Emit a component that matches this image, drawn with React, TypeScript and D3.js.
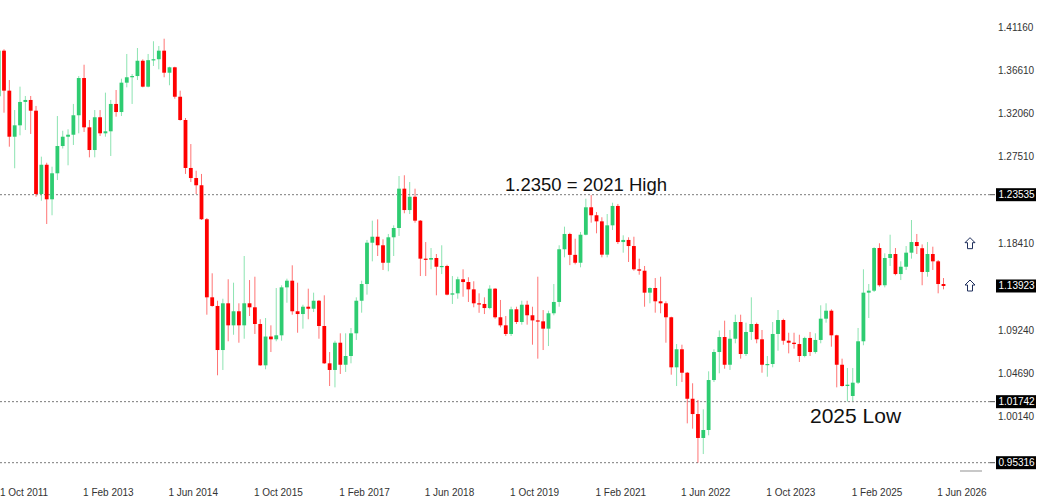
import React from 'react';
import * as d3 from 'd3';

const W = 1038;
const H = 498;

// monthly bars, first one is Oct 2011
const FIRST_MONTH = new Date(2011, 9, 1);

const opens = [
  1.3390, 1.3870, 1.3449, 1.2964, 1.3084, 1.3330, 1.3351, 1.3238, 1.2361, 1.2669,
  1.2305, 1.2579, 1.2866, 1.2964, 1.2985, 1.3190, 1.3582, 1.3063, 1.2824, 1.3169,
  1.3000, 1.3021, 1.3309, 1.3224, 1.3533, 1.3590, 1.3603, 1.3764, 1.3491, 1.3770,
  1.3780, 1.3870, 1.3638, 1.3695, 1.3385, 1.3140, 1.2635, 1.2529, 1.2453, 1.2095,
  1.1273, 1.1182, 1.0718, 1.1210, 1.0978, 1.1126, 1.0978, 1.1210, 1.1168, 1.0992,
  1.0557, 1.0860, 1.0831, 1.0873, 1.1378, 1.1448, 1.1126, 1.1097, 1.1174, 1.1153,
  1.1237, 1.0971, 1.0578, 1.0508, 1.0795, 1.0563, 1.0655, 1.0894, 1.1237, 1.1413,
  1.1848, 1.1911, 1.1821, 1.1637, 1.1905, 1.2003, 1.2417, 1.2192, 1.2332, 1.2080,
  1.1680, 1.1670, 1.1687, 1.1595, 1.1603, 1.1301, 1.1315, 1.1463, 1.1434, 1.1357,
  1.1210, 1.1203, 1.1160, 1.1364, 1.1063, 1.0978, 1.0887, 1.1147, 1.1013, 1.1195,
  1.1084, 1.1030, 1.1020, 1.0943, 1.1105, 1.1224, 1.1779, 1.1940, 1.1720, 1.1637,
  1.1932, 1.2221, 1.2137, 1.2073, 1.1722, 1.2031, 1.2235, 1.1855, 1.1877, 1.1813,
  1.1568, 1.1553, 1.1322, 1.1371, 1.1231, 1.1210, 1.1063, 1.0536, 1.0726, 1.0479,
  1.0205, 1.0044, 0.9792, 0.9876, 1.0402, 1.0697, 1.0855, 1.0563, 1.0837, 1.1013,
  1.0676, 1.0908, 1.0992, 1.0831, 1.0563, 1.0571, 1.0887, 1.1034, 1.0816, 1.0795,
  1.0781, 1.0655, 1.0845, 1.0697, 1.0824, 1.1048, 1.1132, 1.0873, 1.0563, 1.0339,
  1.0234, 1.0374, 1.0810, 1.1322, 1.1343, 1.1792, 1.1400, 1.1687, 1.1729, 1.1518,
  1.1595, 1.1743, 1.1855, 1.1790, 1.1540, 1.1729, 1.1652, 1.1413,
];

const highs = [
  1.4250, 1.3885, 1.3561, 1.3245, 1.3491, 1.3393, 1.3393, 1.3288, 1.2754, 1.2690,
  1.2648, 1.3182, 1.3027, 1.3042, 1.3309, 1.3603, 1.3722, 1.3140, 1.3245, 1.3245,
  1.3428, 1.3351, 1.3456, 1.3575, 1.3835, 1.3624, 1.3898, 1.3779, 1.3835, 1.3969,
  1.3919, 1.3996, 1.3701, 1.3701, 1.3449, 1.3161, 1.2887, 1.2606, 1.2572, 1.2108,
  1.1526, 1.1237, 1.1258, 1.1463, 1.1427, 1.1210, 1.1708, 1.1455, 1.1490, 1.1042,
  1.1055, 1.0978, 1.1371, 1.1399, 1.1469, 1.1610, 1.1427, 1.1195, 1.1364, 1.1322,
  1.1245, 1.1294, 1.0697, 1.0816, 1.0894, 1.0894, 1.0950, 1.1273, 1.1448, 1.1877,
  1.2080, 1.2094, 1.1884, 1.1940, 1.2031, 1.2550, 1.2558, 1.2487, 1.2417, 1.2087,
  1.1855, 1.1792, 1.1729, 1.1821, 1.1616, 1.1497, 1.1490, 1.1568, 1.1484, 1.1442,
  1.1315, 1.1273, 1.1400, 1.1371, 1.1245, 1.1076, 1.1174, 1.1174, 1.1237, 1.1237,
  1.1174, 1.1490, 1.1139, 1.1132, 1.1413, 1.1821, 1.2017, 1.1953, 1.1890, 1.1961,
  1.2311, 1.2350, 1.2171, 1.2116, 1.2150, 1.2269, 1.2256, 1.1926, 1.1905, 1.1911,
  1.1680, 1.1603, 1.1378, 1.1476, 1.1490, 1.1231, 1.1069, 1.0781, 1.0774, 1.0487,
  1.0368, 1.0192, 1.0094, 1.0494, 1.0726, 1.0924, 1.1027, 1.0929, 1.1090, 1.1090,
  1.1006, 1.1273, 1.1006, 1.0929, 1.0655, 1.1013, 1.1139, 1.1048, 1.0900, 1.0900,
  1.0879, 1.0858, 1.0908, 1.0894, 1.1189, 1.1210, 1.1147, 1.0879, 1.0627, 1.0529,
  1.0529, 1.0950, 1.1568, 1.1413, 1.1800, 1.1842, 1.1736, 1.1932, 1.1792, 1.1652,
  1.1813, 1.2087, 1.1940, 1.1830, 1.1855, 1.1806, 1.1666, 1.1476,
];

const lows = [
  1.3150, 1.3217, 1.2859, 1.2632, 1.2979, 1.3035, 1.2993, 1.2332, 1.2290, 1.2045,
  1.2137, 1.2508, 1.2840, 1.2663, 1.2877, 1.3000, 1.3014, 1.2747, 1.2747, 1.2972,
  1.2964, 1.2761, 1.3175, 1.3182, 1.3484, 1.3309, 1.3561, 1.3484, 1.3484, 1.3709,
  1.3674, 1.3590, 1.3506, 1.3364, 1.3133, 1.2572, 1.2487, 1.2361, 1.2087, 1.1090,
  1.1174, 1.0452, 1.0508, 1.0810, 1.0879, 1.0795, 1.0837, 1.1076, 1.0887, 1.0550,
  1.0515, 1.0697, 1.0810, 1.0816, 1.1216, 1.1090, 1.0900, 1.0943, 1.1042, 1.1118,
  1.0837, 1.0571, 1.0339, 1.0325, 1.0466, 1.0487, 1.0578, 1.0824, 1.1111, 1.1301,
  1.1652, 1.1708, 1.1561, 1.1547, 1.1708, 1.1919, 1.2158, 1.2150, 1.2059, 1.1497,
  1.1497, 1.1568, 1.1294, 1.1518, 1.1294, 1.1203, 1.1258, 1.1279, 1.1224, 1.1168,
  1.1110, 1.1097, 1.1147, 1.1048, 1.0957, 1.0866, 1.0866, 1.0992, 1.0985, 1.0985,
  1.0774, 1.0627, 1.0718, 1.0760, 1.1084, 1.1174, 1.1694, 1.1612, 1.1620, 1.1589,
  1.1926, 1.2059, 1.1947, 1.1694, 1.1694, 1.1982, 1.1834, 1.1743, 1.1645, 1.1553,
  1.1511, 1.1174, 1.1210, 1.1111, 1.1105, 1.0795, 1.0458, 1.0339, 1.0381, 0.9946,
  0.9890, 0.9532, 0.9623, 0.9820, 1.0381, 1.0473, 1.0521, 1.0508, 1.0789, 1.0627,
  1.0655, 1.0824, 1.0789, 1.0479, 1.0437, 1.0536, 1.0711, 1.0774, 1.0683, 1.0732,
  1.0592, 1.0641, 1.0655, 1.0680, 1.0789, 1.1006, 1.0753, 1.0325, 1.0332, 1.0177,
  1.0180, 1.0360, 1.0768, 1.1055, 1.1329, 1.1385, 1.1378, 1.1603, 1.1505, 1.1455,
  1.1561, 1.1680, 1.1729, 1.1400, 1.1490, 1.1561, 1.1315, 1.1357,
];

const closes = [
  1.3870, 1.3449, 1.2964, 1.3084, 1.3330, 1.3351, 1.3238, 1.2361, 1.2669, 1.2305,
  1.2579, 1.2866, 1.2964, 1.2985, 1.3190, 1.3582, 1.3063, 1.2824, 1.3169, 1.3000,
  1.3021, 1.3309, 1.3224, 1.3533, 1.3590, 1.3603, 1.3764, 1.3491, 1.3770, 1.3780,
  1.3870, 1.3638, 1.3695, 1.3385, 1.3140, 1.2635, 1.2529, 1.2453, 1.2095, 1.1273,
  1.1182, 1.0718, 1.1210, 1.0978, 1.1126, 1.0978, 1.1210, 1.1168, 1.0992, 1.0557,
  1.0860, 1.0831, 1.0873, 1.1378, 1.1448, 1.1126, 1.1097, 1.1174, 1.1153, 1.1237,
  1.0971, 1.0578, 1.0508, 1.0795, 1.0563, 1.0655, 1.0894, 1.1237, 1.1413, 1.1848,
  1.1911, 1.1821, 1.1637, 1.1905, 1.2003, 1.2417, 1.2192, 1.2332, 1.2080, 1.1680,
  1.1670, 1.1687, 1.1595, 1.1603, 1.1301, 1.1315, 1.1463, 1.1434, 1.1357, 1.1210,
  1.1203, 1.1160, 1.1364, 1.1063, 1.0978, 1.0887, 1.1147, 1.1013, 1.1195, 1.1084,
  1.1030, 1.1020, 1.0943, 1.1105, 1.1224, 1.1779, 1.1940, 1.1720, 1.1637, 1.1932,
  1.2221, 1.2137, 1.2073, 1.1722, 1.2031, 1.2235, 1.1855, 1.1877, 1.1813, 1.1568,
  1.1553, 1.1322, 1.1371, 1.1231, 1.1210, 1.1063, 1.0536, 1.0726, 1.0479, 1.0205,
  1.0044, 0.9792, 0.9876, 1.0402, 1.0697, 1.0855, 1.0563, 1.0837, 1.1013, 1.0676,
  1.0908, 1.0992, 1.0831, 1.0563, 1.0571, 1.0887, 1.1034, 1.0816, 1.0795, 1.0781,
  1.0655, 1.0845, 1.0697, 1.0824, 1.1048, 1.1132, 1.0873, 1.0563, 1.0339, 1.0353,
  1.0374, 1.0810, 1.1322, 1.1343, 1.1792, 1.1400, 1.1687, 1.1729, 1.1518, 1.1595,
  1.1743, 1.1855, 1.1813, 1.1540, 1.1729, 1.1652, 1.1413, 1.13923,
];

// right scale labels that are not hidden by the black level boxes
const priceTicks = [1.4116, 1.3661, 1.3206, 1.2751, 1.1841, 1.0924, 1.0469, 1.0014];
const levelLines = [1.23535, 1.01742, 0.95316];
const lastPrice = 1.13923;
const arrowPrices = [1.1838, 1.1392];
const DATE_STEP = 16;

const UP = '#2ecc71';
const DOWN = '#ff0000';
const FONT = '"Liberation Sans", Arial, sans-serif';

const fmtPrice = (p: number) => p.toFixed(5);
const fmtDate = d3.timeFormat('%-d %b %Y');

const App = () => {
  const n = opens.length;

  const x = d3.scaleLinear().domain([1, n - 1]).range([4, 943.5]);
  const y = d3.scaleLinear().domain([0.95316, 1.23535]).range([462.7, 194.7]);

  const bodyW = 3.8;
  const dateTicks = d3.range(0, n, DATE_STEP);

  return (
    <div style={{ position: 'absolute', left: 0, top: 0 }}>
      <svg width={W} height={H} style={{ display: 'block', background: '#fff' }}>
        <defs>
          <clipPath id="plot">
            <rect x={0} y={0} width={990} height={470} />
          </clipPath>
        </defs>

        {/* horizontal level lines */}
        {levelLines.map(p => (
          <g key={p}>
            <line x1={0} x2={992} y1={y(p)} y2={y(p)} stroke="#7a7a7a" strokeWidth={1} strokeDasharray="2,2" />
            <line x1={990} x2={995} y1={y(p)} y2={y(p)} stroke="#555" strokeWidth={1} />
          </g>
        ))}

        {/* candles */}
        <g clipPath="url(#plot)">
          {opens.map((o, i) => {
            const c = closes[i];
            const up = c >= o;
            const col = up ? UP : DOWN;
            const cx = x(i);
            const top = y(Math.max(o, c));
            const bot = y(Math.min(o, c));
            return (
              <g key={i}>
                <line x1={cx} x2={cx} y1={y(highs[i])} y2={y(lows[i])} stroke={col} strokeOpacity={0.55} strokeWidth={1} />
                <rect x={cx - bodyW / 2} y={top} width={bodyW} height={Math.max(1.2, bot - top)} fill={col} />
              </g>
            );
          })}
        </g>

        {/* price axis */}
        <g fontFamily={FONT} fontSize={10} fill="#333">
          {priceTicks.map(p => (
            <text key={p} x={998} y={y(p) + 3.5}>{fmtPrice(p)}</text>
          ))}
        </g>
        {[...levelLines, lastPrice].map(p => (
          <g key={'b' + p}>
            <rect x={996} y={y(p) - 6.5} width={40} height={13} fill="#000" />
            <text x={998.5} y={y(p) + 3.5} fontFamily={FONT} fontSize={10} fill="#fff">{fmtPrice(p)}</text>
          </g>
        ))}

        {/* time axis */}
        <g fontFamily={FONT} fontSize={10} fill="#333">
          {dateTicks.map(i => (
            <text key={i} x={Math.max(0, x(i) - 1)} y={496}>{fmtDate(d3.timeMonth.offset(FIRST_MONTH, i))}</text>
          ))}
        </g>
        <line x1={960} x2={982} y1={471} y2={471} stroke="#c8c8c8" strokeWidth={2} />

        {/* arrows */}
        {arrowPrices.map(p => {
          const ay = y(p);
          const ax = 970;
          const pts = [[0, -6], [5, -1], [2.5, -1], [2.5, 5], [-2.5, 5], [-2.5, -1], [-5, -1]]
            .map(([dx, dy]) => `${ax + dx},${ay + dy}`).join(' ');
          return <polygon key={p} points={pts} fill="#fff" stroke="#1f2f5c" strokeWidth={1} />;
        })}

        {/* annotations */}
        <text x={505} y={191} fontFamily={FONT} fontSize={18.5} fill="#111">1.2350 = 2021 High</text>
        <text x={810} y={423} fontFamily={FONT} fontSize={21} fill="#111">2025 Low</text>
      </svg>
    </div>
  );
};

export default App;
